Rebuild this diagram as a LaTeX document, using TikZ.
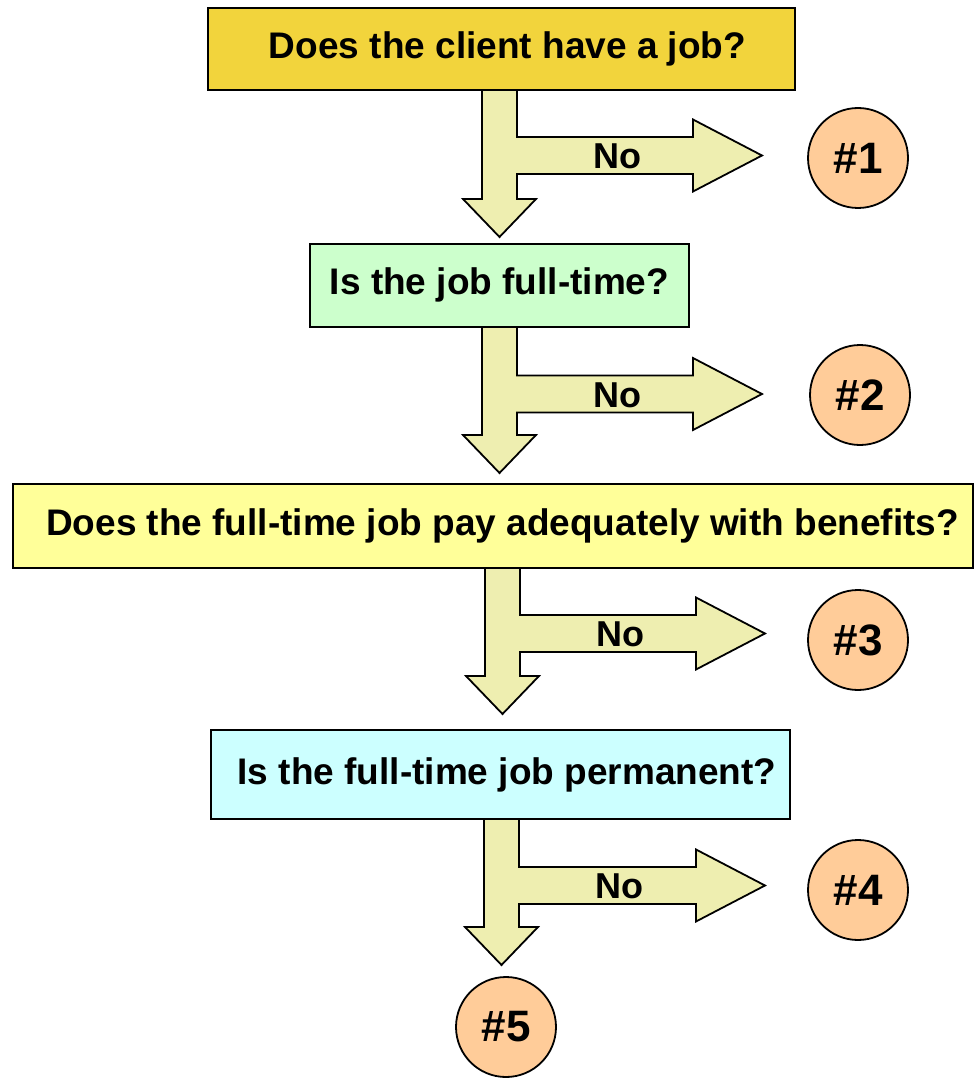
\documentclass[tikz,border=0pt]{standalone}
\usepackage{fontspec}
\setmainfont{Liberation Sans}
\usetikzlibrary{calc}
\definecolor{qgold}{HTML}{F2D43C}
\definecolor{qgreen}{HTML}{CCFFCC}
\definecolor{qyellow}{HTML}{FFFF99}
\definecolor{qcyan}{HTML}{CCFFFF}
\definecolor{circfill}{HTML}{FFCC99}
\definecolor{arrowfill}{HTML}{EEEEB0}
\pgfdeclarelayer{background}
\pgfsetlayers{background,main}
\newcommand\flowarrow[5]{%
  \coordinate (t) at ($(#1.south)+(0,-3)$);
  \begin{pgfonlayer}{background}
  \draw[blk] (#2,0 |- t) -- (#2,#4-38) -- (#2-19,#4-38) -- (#2+17.5,#4) -- (#2+54,#4-38)
    -- (#2+35,#4-38) -- (#2+35,#3+18.5) -- (#5-69,#3+18.5) -- (#5-69,#3+36) -- (#5,#3)
    -- (#5-69,#3-36) -- (#5-69,#3-18.5) -- (#2+35,#3-18.5) -- (#2+35,0 |- t) -- cycle;
  \end{pgfonlayer}
  \node[notext] at (#2+135,#3+1) {No};
}
\begin{document}
\begin{tikzpicture}[x=1pt,y=-1pt,
  box/.style={draw=black, line width=2pt, inner sep=0pt, font=\bfseries\fontsize{37}{44}\selectfont},
  outcome/.style={circle, draw=black, line width=1.8pt, fill=circfill, minimum size=100pt, inner sep=0pt, font=\bfseries\fontsize{44}{52}\selectfont},
  blk/.style={draw=black, line width=1.8pt, fill=arrowfill, line join=miter},
  notext/.style={font=\bfseries\fontsize{36}{43}\selectfont, inner sep=0pt}]
\useasboundingbox (0,0) rectangle (975,1083);
\node[box, fill=qgold, minimum width=587pt, minimum height=82pt] (q1) at (501.5,49) {\hspace*{12pt}Does the client have a job?};
\node[box, fill=qgreen, minimum width=379pt, minimum height=83pt] (q2) at (499.5,285) {Is the job full-time?};
\node[box, fill=qyellow, minimum width=960pt, minimum height=84pt] (q3) at (493,526) {\hspace*{19pt}Does the full-time job pay adequately with benefits?};
\node[box, fill=qcyan, minimum width=579pt, minimum height=89pt] (q4) at (500.5,774.5) {\hspace*{13pt}Is the full-time job permanent?};
\node[outcome] (c1) at (858,158) {\#1};
\node[outcome] (c2) at (860,395) {\#2};
\node[outcome] (c3) at (858,640) {\#3};
\node[outcome] (c4) at (858,890) {\#4};
\node[outcome] (c5) at (506,1027) {\#5};
\flowarrow{q1}{482}{155.5}{237}{762}
\flowarrow{q2}{482}{394}{473}{762}
\flowarrow{q3}{485}{633.5}{714}{765}
\flowarrow{q4}{484}{885.5}{965}{765}
\end{tikzpicture}
\end{document}
